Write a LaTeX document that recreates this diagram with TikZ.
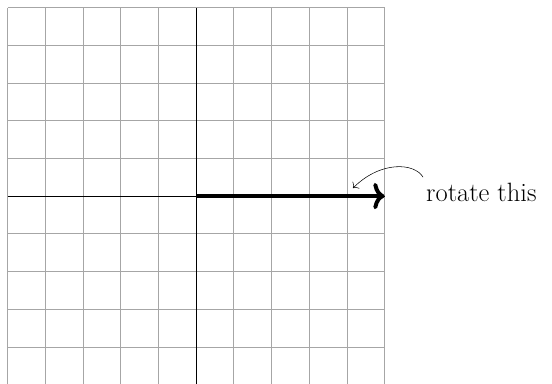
\documentclass[tikz,border=0pt]{standalone}
\usepackage{tikz}
\usetikzlibrary{arrows.meta, positioning}

\begin{document}
\begin{tikzpicture}[
      every node/.style={font=\fontsize{20}{24}\selectfont},
      gridline/.style={gray!70, line width=0.5pt},
      axis/.style={black, line width=0.8pt},
      vec/.style={-{To[length=3mm, width=7mm]}, line width=3pt},
    ]
      \useasboundingbox (-5.2,-4.97) rectangle (9.44,5.2);
      \draw[gridline] (-5,-5) grid (5,5);
      \draw[axis] (-5,0) -- (5,0);
      \draw[axis] (0,-5) -- (0,5);

      \coordinate (origin) at (0,0);
      \coordinate (tip) at (5,0);
      \draw[vec] (origin) -- (tip);

      \node[anchor=west] (label) at (5.98,0.1) {rotate this};
      \coordinate (start) at (6.02,0.5);
      \coordinate (hook) at (4.16,0.21);
      \draw[-{To[length=1.2mm]}, line width=0.4pt]
        (start) .. controls (5.8,0.88) and (4.9,0.95) .. (hook);
    \end{tikzpicture}
\end{document}
